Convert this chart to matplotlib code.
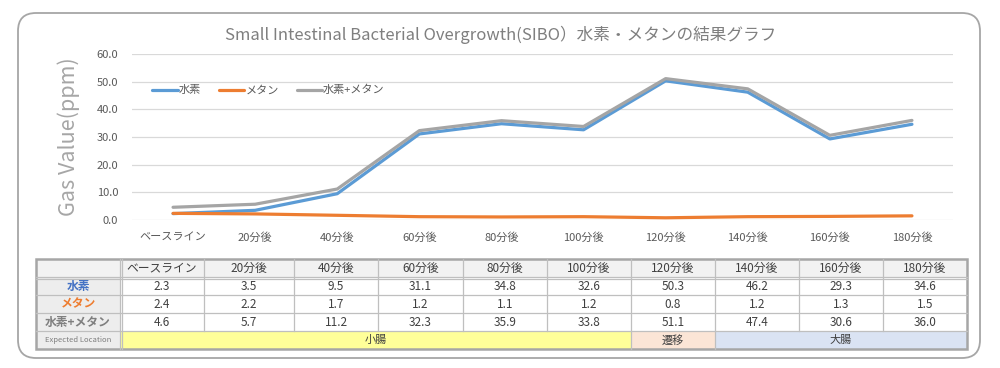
import matplotlib
matplotlib.use('Agg')
import matplotlib.pyplot as plt
from matplotlib.patches import FancyBboxPatch, Rectangle

plt.rcParams['font.family'] = ['Noto Sans CJK JP', 'DejaVu Sans']

times = ['ベースライン', '20分後', '40分後', '60分後', '80分後',
         '100分後', '120分後', '140分後', '160分後', '180分後']
hydrogen = [2.3, 3.5, 9.5, 31.1, 34.8, 32.6, 50.3, 46.2, 29.3, 34.6]
methane = [2.4, 2.2, 1.7, 1.2, 1.1, 1.2, 0.8, 1.2, 1.3, 1.5]
total = [4.6, 5.7, 11.2, 32.3, 35.9, 33.8, 51.1, 47.4, 30.6, 36.0]
series_names = ['水素', 'メタン', '水素+メタン']
# expected location: (label, first column, last column)
locations = [('小腸', 0, 5), ('遷移', 6, 6), ('大腸', 7, 9)]

c_h2 = '#5B9BD5'
c_ch4 = '#ED7D31'
c_tot = '#A5A5A5'
txt = '#595959'

fig = plt.figure(figsize=(10, 3.68), dpi=100)

# background layer in pixel coordinates (border + table)
bg = fig.add_axes([0, 0, 1, 1])
bg.set_xlim(0, 1000)
bg.set_ylim(368, 0)
bg.axis('off')

bg.add_patch(FancyBboxPatch((36, 31), 926, 309,
                            boxstyle='round,pad=18',
                            fc='white', ec='#A6A6A6', lw=1.3))

fig.text(0.501, 1 - 35 / 368, 'Small Intestinal Bacterial Overgrowth(SIBO）水素・メタンの結果グラフ',
         ha='center', va='center', fontsize=12, color='#7F7F7F')

# chart
ax = fig.add_axes([0.132, 1 - 220 / 368, 0.821, 166 / 368])
x = range(len(times))
ax.plot(x, hydrogen, color=c_h2, lw=2.3, label=series_names[0], solid_capstyle='round')
ax.plot(x, methane, color=c_ch4, lw=2.3, label=series_names[1], solid_capstyle='round')
ax.plot(x, total, color=c_tot, lw=2.3, label=series_names[2], solid_capstyle='round')
ax.set_xlim(-0.5, len(times) - 0.5)
ax.set_ylim(0, 60)
ax.set_yticks(range(0, 61, 10))
ax.set_yticklabels([f'{v:.1f}' for v in range(0, 61, 10)])
ax.set_xticks(list(x))
ax.set_xticklabels(times)
ax.tick_params(length=0, labelsize=8, colors=txt, pad=9)
ax.tick_params(axis='y', pad=10)
ax.grid(axis='y', color='#D9D9D9', lw=0.9)
ax.set_axisbelow(True)
for s in ax.spines.values():
    s.set_visible(False)
ax.set_ylabel('Gas Value(ppm)', fontsize=15.5, color='#A6A6A6', labelpad=12)
ax.legend(loc='upper left', bbox_to_anchor=(0.142, 1 - 75 / 368), bbox_transform=fig.transFigure,
          ncol=3, frameon=False, fontsize=8, handlelength=2.3, columnspacing=1.6,
          handletextpad=0.1, labelcolor=txt)

# table
col_x = [36, 120, 204, 294, 378, 463, 547, 631, 715, 799, 883, 967]
row_y = [259, 277, 295, 313, 331, 349]
grid_c = '#BFBFBF'
loc_colors = {'小腸': '#FFFF99', '遷移': '#FBE5D6', '大腸': '#DAE3F3'}

# header row + label column backgrounds
bg.add_patch(Rectangle((col_x[0], row_y[0]), col_x[-1] - col_x[0], row_y[1] - row_y[0],
                       fc='#F2F2F2', ec='none'))
bg.add_patch(Rectangle((col_x[0], row_y[1]), col_x[1] - col_x[0], row_y[-1] - row_y[1],
                       fc='#EDEDED', ec='none'))
for name, a, b in locations:
    bg.add_patch(Rectangle((col_x[a + 1], row_y[4]), col_x[b + 2] - col_x[a + 1], row_y[5] - row_y[4],
                           fc=loc_colors[name], ec='none'))
    bg.text((col_x[a + 1] + col_x[b + 2]) / 2, (row_y[4] + row_y[5]) / 2, name,
            ha='center', va='center', fontsize=8, color='#404040')

# grid lines
for yy in row_y[1:-1]:
    bg.plot([col_x[0], col_x[-1]], [yy, yy], color=grid_c, lw=0.9)
bg.plot([col_x[0], col_x[-1]], [row_y[1] + 1.5, row_y[1] + 1.5], color=grid_c, lw=0.9)
for i, xx in enumerate(col_x[1:-1]):
    if i == 0:
        bg.plot([xx, xx], [row_y[0], row_y[-1]], color=grid_c, lw=0.9)
        bg.plot([xx + 1.5, xx + 1.5], [row_y[0], row_y[-1]], color=grid_c, lw=0.9)
    else:
        bg.plot([xx, xx], [row_y[0], row_y[4]], color=grid_c, lw=0.9)
# separators inside the location row between groups
for name, a, b in locations[1:]:
    xx = col_x[a + 1]
    bg.plot([xx, xx], [row_y[4], row_y[5]], color=grid_c, lw=0.9)
bg.add_patch(Rectangle((col_x[0], row_y[0]), col_x[-1] - col_x[0], row_y[-1] - row_y[0],
                       fc='none', ec='#A6A6A6', lw=1.8))

def cx(i):
    return (col_x[i] + col_x[i + 1]) / 2

def cy(j):
    return (row_y[j] + row_y[j + 1]) / 2

for i, t in enumerate(times):
    bg.text(cx(i + 1), cy(0), t, ha='center', va='center', fontsize=8.5, color='#404040')

row_vals = [hydrogen, methane, total]
row_cols = ['#4472C4', c_ch4, '#7F7F7F']
for j, (name, vals, c) in enumerate(zip(series_names, row_vals, row_cols)):
    bg.text(cx(0), cy(j + 1), name, ha='center', va='center', fontsize=8.5,
            color=c, fontweight='bold')
    for i, v in enumerate(vals):
        bg.text(cx(i + 1), cy(j + 1), f'{v:.1f}', ha='center', va='center',
                fontsize=8.5, color='#404040')
bg.text(cx(0), cy(4), 'Expected Location', ha='center', va='center', fontsize=5.5,
        color='#7F7F7F')

fig.savefig('out.png', dpi=100)
